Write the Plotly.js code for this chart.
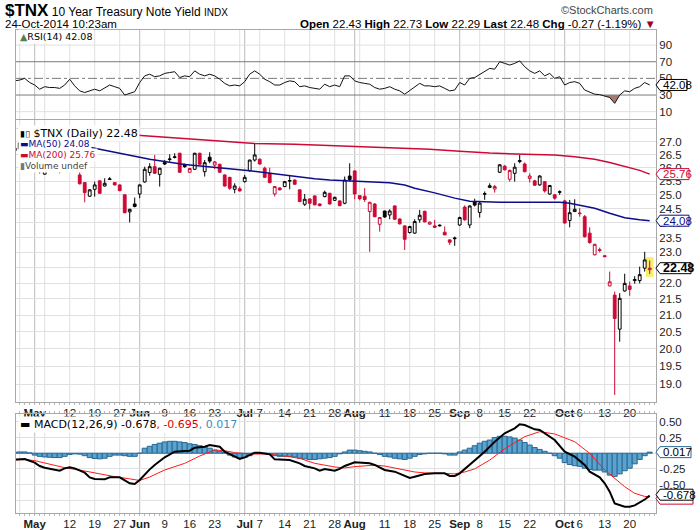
<!DOCTYPE html>
<html><head><meta charset="utf-8">
<script src="https://cdn.plot.ly/plotly-3.0.1.min.js"></script>
<style>html,body{margin:0;padding:0;background:#fff}#chart{width:700px;height:530px}</style>
</head><body><div id="chart"></div>
<script>
// ---------------- DATA ----------------
const dates = ("2014-04-25 2014-04-28 2014-04-29 2014-04-30 " +
"2014-05-01 2014-05-02 2014-05-05 2014-05-06 2014-05-07 2014-05-08 2014-05-09 2014-05-12 2014-05-13 2014-05-14 2014-05-15 2014-05-16 2014-05-19 2014-05-20 2014-05-21 2014-05-22 2014-05-23 2014-05-27 2014-05-28 2014-05-29 2014-05-30 " +
"2014-06-02 2014-06-03 2014-06-04 2014-06-05 2014-06-06 2014-06-09 2014-06-10 2014-06-11 2014-06-12 2014-06-13 2014-06-16 2014-06-17 2014-06-18 2014-06-19 2014-06-20 2014-06-23 2014-06-24 2014-06-25 2014-06-26 2014-06-27 2014-06-30 " +
"2014-07-01 2014-07-02 2014-07-03 2014-07-07 2014-07-08 2014-07-09 2014-07-10 2014-07-11 2014-07-14 2014-07-15 2014-07-16 2014-07-17 2014-07-18 2014-07-21 2014-07-22 2014-07-23 2014-07-24 2014-07-25 2014-07-28 2014-07-29 2014-07-30 2014-07-31 " +
"2014-08-01 2014-08-04 2014-08-05 2014-08-06 2014-08-07 2014-08-08 2014-08-11 2014-08-12 2014-08-13 2014-08-14 2014-08-15 2014-08-18 2014-08-19 2014-08-20 2014-08-21 2014-08-22 2014-08-25 2014-08-26 2014-08-27 2014-08-28 2014-08-29 " +
"2014-09-02 2014-09-03 2014-09-04 2014-09-05 2014-09-08 2014-09-09 2014-09-10 2014-09-11 2014-09-12 2014-09-15 2014-09-16 2014-09-17 2014-09-18 2014-09-19 2014-09-22 2014-09-23 2014-09-24 2014-09-25 2014-09-26 2014-09-29 2014-09-30 " +
"2014-10-01 2014-10-02 2014-10-03 2014-10-06 2014-10-07 2014-10-08 2014-10-09 2014-10-10 2014-10-13 2014-10-14 2014-10-15 2014-10-16 2014-10-17 2014-10-20 2014-10-21 2014-10-22 2014-10-23 2014-10-24").split(" ");

const openV = [26.75,26.7,26.95,26.98,
26.5,26.15,25.76,26.08,25.96,26.05,25.95,26.3,26.6,25.73,
25.445,24.95,25.20,25.51,25.32,25.56,25.445,25.36,25.0,24.39,
24.67,25.03,25.47,25.82,26.04,25.75,26.20,26.31,26.39,26.55,
26.13,25.83,25.94,26.55,25.85,26.40,26.10,26.13,25.73,25.64,
25.20,25.22,25.48,25.89,26.29,26.32,25.98,25.79,25.03,25.25,
25.30,25.50,25.54,25.18,24.66,24.85,24.96,24.67,24.935,25.055,
24.80,24.78,24.695,25.69,25.88,24.97,24.95,24.40,24.67,23.955,
24.42,24.28,24.60,24.14,23.90,23.67,23.65,24.11,24.41,23.96,
23.90,23.90,23.68,23.42,23.46,23.93,24.56,23.93,24.74,24.37,
25.02,25.27,25.21,25.83,26.06,25.57,25.79,26.23,26.14,25.60,
25.51,25.36,25.48,25.03,25.00,25.09,24.78,24.09,24.40,24.35,
24.22,23.65,22.92,23.09,22.89,21.91,21.62,20.58,21.75,21.91,
22.08,22.08,22.48,22.43];
const highV = [26.85,27.05,27.05,27.0,
26.6,26.45,26.1,26.2,26.12,26.2,26.3,26.7,26.62,25.89,
25.46,25.2,25.48,25.53,25.605,25.65,25.47,25.38,25.02,24.5,
24.90,25.38,26.04,26.17,26.485,26.0,26.29,26.51,26.55,26.57,
26.15,25.99,26.57,26.57,26.29,26.59,26.25,26.15,25.75,25.66,
25.42,25.30,25.73,26.30,26.91,26.35,26.04,26.0,25.31,25.27,
25.5,25.69,25.56,25.2,25.03,24.87,24.98,24.69,25.15,25.07,
24.93,24.8,25.67,26.17,25.9,24.99,25.24,24.75,24.7,24.2,
24.43,24.48,24.62,24.16,23.92,23.9,24.13,24.46,24.43,24.05,
24.11,23.95,23.88,23.44,23.53,24.22,24.62,24.62,24.86,24.755,
25.12,25.42,25.36,26.14,26.10,25.93,26.17,26.485,26.2,25.79,
25.55,25.72,25.5,25.36,25.02,25.16,24.82,24.815,24.84,24.52,
24.28,23.85,23.29,23.16,22.90,22.37,21.73,21.68,22.30,22.05,
22.22,22.53,23.02,22.73];
const lowV = [26.55,26.6,26.8,26.45,
26.0,25.78,25.74,25.86,25.92,25.79,25.93,26.25,26.05,25.38,
24.73,24.93,24.935,25.03,25.30,25.54,25.34,25.13,24.34,24.02,
24.55,24.875,25.445,25.70,25.78,25.30,26.10,26.23,26.35,25.81,
26.0,25.81,25.91,26.11,25.67,26.17,25.95,25.81,25.30,25.18,
25.055,25.12,25.45,25.85,26.23,26.12,25.62,25.42,24.94,25.16,
25.28,25.20,25.37,24.74,24.60,24.48,24.62,24.59,24.91,24.65,
24.78,24.59,24.66,25.48,24.84,24.80,24.74,23.02,24.2,23.70,
24.18,24.13,24.11,23.95,23.08,23.64,23.63,24.01,24.02,23.94,
23.84,23.88,23.58,23.25,23.22,23.90,24.08,23.82,24.58,24.19,
24.82,25.24,25.08,25.80,25.90,25.48,25.48,26.17,25.83,25.45,
25.33,25.33,25.08,25.0,24.82,25.0,23.98,23.85,24.40,24.22,
23.50,23.29,22.90,23.0,22.84,21.90,18.71,20.21,21.73,21.60,
21.98,21.99,22.37,22.29];
const closeV = [26.65,26.95,26.98,26.5,
26.1,25.88,26.02,25.96,26.05,25.95,26.25,26.62,26.12,25.40,
25.08,25.18,25.36,25.055,25.42,25.58,25.36,25.15,24.36,24.48,
24.58,25.36,25.94,26.04,25.79,25.98,26.14,26.33,26.41,25.83,
26.04,25.97,26.55,26.13,26.19,26.25,26.22,25.83,25.32,25.24,
25.32,25.14,25.64,26.29,26.485,26.14,25.64,25.445,25.30,25.18,
25.48,25.52,25.385,24.755,24.84,24.695,24.64,24.61,25.09,24.67,
24.91,24.61,25.54,25.56,25.03,24.86,24.83,24.73,24.22,24.19,
24.21,24.42,24.13,23.97,23.44,23.876,24.05,24.27,24.04,24.03,
23.85,23.92,23.59,23.34,23.48,24.19,24.11,24.60,24.63,24.70,
25.04,25.33,25.30,26.11,25.92,25.90,26.02,26.27,25.85,25.69,
25.35,25.69,25.14,25.34,24.88,25.11,24.00,24.36,24.48,24.33,
23.53,23.33,23.27,23.07,22.86,22.04,20.90,21.52,21.99,21.80,
22.11,22.27,22.75,22.48];

const rsi14 = [47,48,50,45,
42,37,40,39,39,38,42,49,41,35,
33,35,37,35,38,42,40,38,30,32,
34,45,53,55,52,53,56,57,58,51,
53,52,59,55,53,55,53,49,44,41,
42,41,46,55,59,55,49,46,42,42,
45,47,46,40,41,39,38,37,43,40,
42,40,53,53,47,45,44,43,39,37,
38,40,37,35,31,35,39,44,41,41,
40,41,38,35,36,45,42,50,51,55,
58,62,61,70,68,66,68,71,64,59,
56,59,53,56,50,52,42,45,46,44,
36,33,31,30.5,29,27,20,30,35,34,
38,40,45,42.08];

const ma50Dates = ["2014-05-15","2014-05-16","2014-05-23","2014-06-04","2014-06-13","2014-06-23","2014-06-26","2014-06-30","2014-07-02","2014-07-09","2014-07-15","2014-07-22","2014-07-25","2014-08-01","2014-08-12","2014-08-15","2014-08-19","2014-08-25","2014-08-29","2014-09-04","2014-09-08","2014-09-12","2014-09-19","2014-09-30","2014-10-02","2014-10-07","2014-10-09","2014-10-14","2014-10-17","2014-10-22","2014-10-24"];
const ma50 = [26.80,26.78,26.59,26.32,26.12,26.00,25.96,25.92,25.89,25.80,25.69,25.59,25.54,25.49,25.44,25.36,25.24,25.07,24.88,24.77,24.75,24.73,24.73,24.73,24.70,24.60,24.52,24.34,24.18,24.11,24.08];

const ma200Dates = ["2014-05-27","2014-05-30","2014-06-06","2014-06-13","2014-06-20","2014-06-26","2014-07-03","2014-07-16","2014-07-25","2014-08-01","2014-08-13","2014-08-22","2014-09-02","2014-09-10","2014-09-19","2014-09-29","2014-10-03","2014-10-09","2014-10-14","2014-10-17","2014-10-22","2014-10-24"];
const ma200 = [27.30,27.26,27.18,27.12,27.06,27.02,26.93,26.90,26.85,26.81,26.77,26.70,26.63,26.56,26.51,26.48,26.42,26.32,26.20,26.05,25.90,25.76];

const macdDates = ["2014-04-25","2014-04-29","2014-05-01","2014-05-02","2014-05-05","2014-05-07","2014-05-08","2014-05-09","2014-05-12","2014-05-13","2014-05-15","2014-05-16","2014-05-19","2014-05-21","2014-05-22","2014-05-27","2014-05-28","2014-05-29","2014-05-30","2014-06-02","2014-06-04","2014-06-05","2014-06-09","2014-06-11","2014-06-13","2014-06-16","2014-06-17","2014-06-19","2014-06-20","2014-06-24","2014-06-25","2014-06-27","2014-06-30","2014-07-01","2014-07-03","2014-07-07","2014-07-09","2014-07-10","2014-07-14","2014-07-15","2014-07-17","2014-07-18","2014-07-22","2014-07-23","2014-07-24","2014-07-25","2014-07-28","2014-07-29","2014-07-30","2014-08-01","2014-08-04","2014-08-06","2014-08-07","2014-08-11","2014-08-13","2014-08-15","2014-08-18","2014-08-19","2014-08-21","2014-08-25","2014-08-27","2014-08-28","2014-08-29","2014-09-02","2014-09-04","2014-09-05","2014-09-09","2014-09-11","2014-09-15","2014-09-17","2014-09-18","2014-09-19","2014-09-23","2014-09-24","2014-09-25","2014-09-29","2014-10-01","2014-10-03","2014-10-07","2014-10-08","2014-10-10","2014-10-13","2014-10-14","2014-10-15","2014-10-17","2014-10-20","2014-10-21","2014-10-23","2014-10-24"];
const macdLine = [-0.10,-0.093,-0.151,-0.204,-0.231,-0.258,-0.279,-0.242,-0.226,-0.242,-0.311,-0.386,-0.412,-0.417,-0.386,-0.386,-0.428,-0.481,-0.492,-0.428,-0.258,-0.188,-0.066,0.024,0.035,0.040,0.088,0.104,0.131,0.104,0.024,-0.055,-0.093,-0.066,0.009,0.009,-0.018,-0.098,-0.109,-0.109,-0.162,-0.204,-0.242,-0.279,-0.252,-0.268,-0.279,-0.25,-0.204,-0.146,-0.151,-0.162,-0.188,-0.268,-0.295,-0.364,-0.396,-0.375,-0.332,-0.322,-0.322,-0.364,-0.364,-0.322,-0.188,-0.109,0.024,0.184,0.317,0.397,0.461,0.450,0.381,0.371,0.317,0.211,0.024,-0.055,-0.188,-0.295,-0.386,-0.481,-0.614,-0.801,-0.854,-0.854,-0.833,-0.74,-0.678];

const signalDates = ["2014-04-25","2014-04-29","2014-05-01","2014-05-06","2014-05-09","2014-05-15","2014-05-20","2014-05-23","2014-05-29","2014-06-02","2014-06-04","2014-06-09","2014-06-13","2014-06-18","2014-06-23","2014-06-25","2014-06-27","2014-07-02","2014-07-08","2014-07-14","2014-07-17","2014-07-22","2014-07-28","2014-07-30","2014-08-01","2014-08-05","2014-08-07","2014-08-11","2014-08-13","2014-08-15","2014-08-19","2014-08-21","2014-08-26","2014-08-29","2014-09-03","2014-09-05","2014-09-10","2014-09-15","2014-09-19","2014-09-24","2014-09-29","2014-10-03","2014-10-08","2014-10-13","2014-10-17","2014-10-21","2014-10-23","2014-10-24"];
const signalLine = [-0.11,-0.10,-0.119,-0.178,-0.231,-0.284,-0.332,-0.375,-0.41,-0.435,-0.38,-0.268,-0.162,-0.045,0.051,0.04,0.009,-0.013,-0.013,-0.045,-0.082,-0.162,-0.22,-0.235,-0.215,-0.2,-0.19,-0.205,-0.235,-0.27,-0.30,-0.315,-0.32,-0.33,-0.30,-0.25,-0.11,0.07,0.264,0.344,0.307,0.184,-0.002,-0.268,-0.535,-0.641,-0.69,-0.695];

const macdHist = [0.015,0.02,0.02,0.005,
-0.03,-0.05,-0.06,-0.065,-0.07,-0.07,-0.05,-0.02,-0.01,-0.015,
-0.04,-0.07,-0.085,-0.09,-0.08,-0.05,-0.03,-0.03,-0.04,-0.05,
-0.05,0.0,0.08,0.11,0.14,0.16,0.18,0.19,0.19,0.18,
0.17,0.15,0.14,0.12,0.1,0.08,0.05,0.03,0.01,-0.03,
-0.06,-0.08,-0.07,-0.04,0.0,0.01,0.0,-0.02,-0.04,-0.05,
-0.05,-0.05,-0.06,-0.08,-0.09,-0.1,-0.1,-0.09,-0.08,-0.07,
-0.05,-0.01,0.02,0.05,0.05,0.04,0.03,0.02,0.0,-0.02,
-0.05,-0.06,-0.08,-0.09,-0.1,-0.08,-0.05,-0.02,-0.01,0.0,
0.0,0.0,-0.01,-0.03,-0.03,0.02,0.05,0.08,0.12,0.16,
0.19,0.21,0.25,0.27,0.27,0.26,0.24,0.21,0.17,0.13,
0.09,0.06,0.03,0.0,-0.04,-0.08,-0.15,-0.18,-0.2,-0.21,
-0.24,-0.26,-0.27,-0.27,-0.3,-0.35,-0.37,-0.33,-0.28,-0.24,
-0.17,-0.1,-0.04,0.017];

const monthNames = ["Jan","Feb","Mar","Apr","May","Jun","Jul","Aug","Sep","Oct","Nov","Dec"];

// ---------------- GEOMETRY / STYLE ----------------
const PL = 16, PR = 656, PT = 30, PB = 513;
const pyP = p => (PB - p) / (PB - PT);
const pxP = p => (p - PL) / (PR - PL);
const rsiDom = [pyP(119), 1], mainDom = [pyP(402), pyP(120)], macdDom = [0, pyP(414)];
const n = dates.length;
const X = dates.map((d, i) => i);
const xi = d => dates.indexOf(d);
const xRange = [0.26, n + 0.26];
const rsiRange = [1.2, 108.1];
const mainRange = [Math.log10(18.52), Math.log10(27.86)];
const macdRange = [-0.955, 0.626];
const GRID = '#e0e0e0', MONTHGRID = '#bcbcbc', BORDER = '#a8a8a8';
const RED = '#cc0a35', NAVY = '#0d0d8a';
const LEG_FONT = 'DejaVu Sans, Verdana, sans-serif';
const AX_FONT = 'Liberation Sans, Arial, sans-serif';

// ---- x ticks (week starts / month starts) ----
const tickvals = [], ticktext = [], monthIdx = [];
for (let k = 1; k < n; k++) {
  const d = new Date(dates[k] + 'T00:00:00Z'), p = new Date(dates[k - 1] + 'T00:00:00Z');
  if (d.getUTCMonth() !== p.getUTCMonth()) monthIdx.push(k);
}
for (let k = 1; k < n; k++) {
  const d = new Date(dates[k] + 'T00:00:00Z'), p = new Date(dates[k - 1] + 'T00:00:00Z');
  const isMonth = monthIdx.includes(k);
  const isWeek = d.getUTCDay() < p.getUTCDay() || (d - p) > 3 * 864e5;
  if (!isMonth && !isWeek) continue;
  tickvals.push(k);
  if (isMonth) { ticktext.push('<b>' + monthNames[d.getUTCMonth()] + '</b>'); continue; }
  const near = monthIdx.some(m => Math.abs(m - k) <= 2) || k < monthIdx[0];
  ticktext.push(near ? '' : String(d.getUTCDate()));
}

// ---- candles: black when close >= previous close, red otherwise ----
const upIdx = [], dnIdx = [];
for (let k = 0; k < n; k++) ((k === 0 || closeV[k] >= closeV[k - 1]) ? upIdx : dnIdx).push(k);
function candles(idx, col) {
  return {
    type: 'candlestick', xaxis: 'x2', yaxis: 'y2',
    x: idx.map(k => X[k]), open: idx.map(k => openV[k]), high: idx.map(k => highV[k]),
    low: idx.map(k => lowV[k]), close: idx.map(k => closeV[k]),
    increasing: { line: { color: col, width: 1 }, fillcolor: '#ffffff' },
    decreasing: { line: { color: col, width: 1 }, fillcolor: col },
    whiskerwidth: 0, hoverinfo: 'skip', showlegend: false
  };
}

// ---- RSI below-30 fill ----
const fx = [], fy = [];
for (let k = 0; k < n; k++) {
  if (k > 0 && (rsi14[k - 1] - 30) * (rsi14[k] - 30) < 0) {
    const t = (30 - rsi14[k - 1]) / (rsi14[k] - rsi14[k - 1]);
    fx.push(k - 1 + t); fy.push(30);
  }
  fx.push(k); fy.push(Math.min(rsi14[k], 30));
}
const last = n - 1;

const data = [
  { type: 'scatter', mode: 'lines', xaxis: 'x', yaxis: 'y', x: fx, y: fx.map(() => 30), line: { width: 0 }, hoverinfo: 'skip' },
  { type: 'scatter', mode: 'lines', xaxis: 'x', yaxis: 'y', x: fx, y: fy, fill: 'tonexty', fillcolor: '#a57b70', line: { width: 0 }, hoverinfo: 'skip' },
  { type: 'scatter', mode: 'lines', xaxis: 'x', yaxis: 'y', x: X, y: rsi14, line: { color: '#111', width: 1 }, hoverinfo: 'skip' },
  candles(upIdx, '#000000'),
  candles(dnIdx, RED),
  { type: 'scatter', mode: 'lines', xaxis: 'x2', yaxis: 'y2', x: ma200Dates.map(xi), y: ma200, line: { color: RED, width: 1.5 }, hoverinfo: 'skip' },
  { type: 'scatter', mode: 'lines', xaxis: 'x2', yaxis: 'y2', x: ma50Dates.map(xi), y: ma50, line: { color: NAVY, width: 1.5 }, hoverinfo: 'skip' },
  { type: 'bar', xaxis: 'x3', yaxis: 'y3', x: X, y: macdHist, width: 1, marker: { color: '#58a3d0', line: { color: '#2a6790', width: 1 } }, hoverinfo: 'skip' },
  { type: 'scatter', mode: 'lines', xaxis: 'x3', yaxis: 'y3', x: signalDates.map(xi), y: signalLine, line: { color: '#ff1a1a', width: 1 }, hoverinfo: 'skip' },
  { type: 'scatter', mode: 'lines', xaxis: 'x3', yaxis: 'y3', x: macdDates.map(xi), y: macdLine, line: { color: '#000', width: 2 }, hoverinfo: 'skip' }
];

// ---------------- SHAPES (behind the data) ----------------
const shapes = [];
function frac(range, v, log) { return ((log ? Math.log10(v) : v) - range[0]) / (range[1] - range[0]); }
function yPaper(dom, range, v, log) { return dom[0] + frac(range, v, log) * (dom[1] - dom[0]); }

// vertical grid: weekly light, month starts darker
['y', 'y2', 'y3'].forEach((ya, j) => tickvals.forEach(k =>
  shapes.push({ type: 'line', xref: ['x', 'x2', 'x3'][j], yref: ya + ' domain', x0: k, x1: k, y0: 0, y1: 1,
    line: { color: monthIdx.includes(k) ? MONTHGRID : GRID, width: 1 }, layer: 'below' })));
// RSI reference lines
[[10, GRID, 'solid'], [90, GRID, 'solid'], [70, '#7a7a7a', 'solid'], [30, '#7a7a7a', 'solid'], [50, '#7a7a7a', 'dashdot']].forEach(([v, c, dash]) =>
  shapes.push({ type: 'line', xref: 'x domain', yref: 'y domain', x0: 0, x1: 1, y0: frac(rsiRange, v), y1: frac(rsiRange, v),
    line: { color: c, width: 1, dash: dash }, layer: 'below' }));
// last-bar highlight
shapes.push({ type: 'rect', xref: 'x2', yref: 'y2 domain', x0: last - 0.75, x1: last + 0.75,
  y0: frac(mainRange, lowV[last], true) - 0.01, y1: frac(mainRange, highV[last], true) + 0.012,
  fillcolor: '#f6ef6a', line: { width: 0 }, layer: 'below' });

// ---------------- TAGS / ANNOTATIONS ----------------
const ann = [];
function tag(yp, txt, border, color, w, bold) {
  shapes.push({ type: 'path', xref: 'paper', yref: 'paper', xsizemode: 'pixel', ysizemode: 'pixel', xanchor: 1, yanchor: yp,
    path: `M0,0 L4,5.5 L${w},5.5 L${w},-5.5 L4,-5.5 Z`, fillcolor: '#fff', line: { color: border, width: 1 }, layer: 'above' });
  if (txt) ann.push({ xref: 'paper', yref: 'paper', x: 1, y: yp, xanchor: 'left', yanchor: 'middle', xshift: 4.5, showarrow: false,
    text: bold ? '<b>' + txt + '</b>' : txt, font: { family: AX_FONT, size: bold ? 12.5 : 11.5, color: color } });
}
const lastMA50 = ma50[ma50.length - 1], lastMA200 = ma200[ma200.length - 1];
const lastRSI = rsi14[last], lastHist = macdHist[last], lastMacd = macdLine[macdLine.length - 1], lastSig = signalLine[signalLine.length - 1];

tag(yPaper(rsiDom, rsiRange, lastRSI, false), lastRSI.toFixed(2), '#000', '#000', 31);
tag(yPaper(mainDom, mainRange, lastMA200, true), lastMA200.toFixed(2), RED, RED, 33);
tag(yPaper(mainDom, mainRange, lastMA50, true), lastMA50.toFixed(2), NAVY, NAVY, 33);
tag(yPaper(mainDom, mainRange, closeV[last], true), closeV[last].toFixed(2), '#000', '#000', 35, true);
tag(yPaper(macdDom, macdRange, lastHist, false), lastHist.toFixed(3), '#2a6790', '#000', 35);
tag(yPaper(macdDom, macdRange, lastSig, false) - 0.004, '', RED, '#000', 37);           // signal tag, mostly hidden
tag(yPaper(macdDom, macdRange, lastMacd, false) + 0.002, lastMacd.toFixed(3), '#000', '#000', 37);

function note(px, py, txt, opts) {
  ann.push(Object.assign({ xref: 'paper', yref: 'paper', x: pxP(px), y: pyP(py), xanchor: 'left', yanchor: 'middle', showarrow: false, text: txt,
    font: { family: AX_FONT, size: 11, color: '#000' } }, opts || {}));
}
// header
note(3, 10, '<b>$TNX</b><span style="font-size:12px"> 10 Year Treasury Note Yield </span><span style="font-size:10px">INDX</span>', { font: { family: AX_FONT, size: 17, color: '#000' } });
note(3, 24, '24-Oct-2014 10:23am', { font: { family: AX_FONT, size: 11.5, color: '#000' } });
note(655, 10, '©StockCharts.com', { xanchor: 'right', font: { family: AX_FONT, size: 11, color: '#444' } });
const chg = closeV[last] - closeV[last - 1];
note(658, 24, '<b>Open</b> ' + openV[last].toFixed(2) + ' <b>High</b> ' + highV[last].toFixed(2) + ' <b>Low</b> ' + lowV[last].toFixed(2) +
  ' <b>Last</b> ' + closeV[last].toFixed(2) + ' <b>Chg</b> ' + chg.toFixed(2) + ' (' + (100 * chg / closeV[last - 1]).toFixed(2) + '%) <span style="color:#9c0030">▼</span>',
  { xanchor: 'right', font: { family: AX_FONT, size: 11.5, color: '#000' } });

// panel legends (white boxes)
const leg = size => ({ bgcolor: '#ffffff', borderpad: 1, font: { family: LEG_FONT, size: size, color: '#000' } });
note(18, 36, '<span style="color:#4f7f4f">▲</span>RSI(14) ' + lastRSI.toFixed(2), leg(9.5));
note(18, 133, '<span style="font-size:9px">▮▯</span> $TNX (Daily) ' + closeV[last].toFixed(2), leg(11));
note(18, 144, '<span style="color:' + NAVY + '">▬</span><span style="color:' + NAVY + '">MA(50) ' + lastMA50.toFixed(2) + '</span>', leg(9));
note(18, 155, '<span style="color:' + RED + '">▬</span><span style="color:' + RED + '">MA(200) ' + lastMA200.toFixed(2) + '</span>', leg(9));
note(18, 165.5, '<span style="color:#777">▮</span><span style="color:#444">Volume undef</span>', leg(9));
note(18, 424, '▬ MACD(12,26,9) ' + lastMacd.toFixed(3) + '<span style="color:#e00000">, ' + lastSig.toFixed(3) + '</span><span style="color:#3a8cc0">, ' + lastHist.toFixed(3) + '</span>', leg(11));

// ---------------- LAYOUT ----------------
const xBase = () => ({ range: xRange.slice(), tickmode: 'array', tickvals: tickvals.slice(), ticktext: ticktext.slice(), showgrid: false,
  zeroline: false, showline: true, mirror: true, linecolor: BORDER, linewidth: 1, ticks: '',
  tickfont: { family: AX_FONT, size: 11.5, color: '#222' }, fixedrange: true, rangeslider: { visible: false } });
const yBase = () => ({ side: 'right', showgrid: true, gridcolor: GRID, zeroline: false, showline: true, mirror: true, linecolor: BORDER, ticks: '',
  tickfont: { family: AX_FONT, size: 11.5, color: '#222' }, tickmode: 'array', fixedrange: true });
const dayTicks = { tickmode: 'linear', tick0: 0, dtick: 1, ticks: 'outside', ticklen: 2, tickcolor: '#b8b8b8', showgrid: false };

const mainTicks = [], mainText = [];
for (let v = 19; v <= 27.5001; v += 0.5) { mainTicks.push(v); mainText.push(v > 27.2 ? '' : v.toFixed(1)); }

const layout = {
  width: 700, height: 530, margin: { l: PL, r: 700 - PR, t: PT, b: 530 - PB },
  paper_bgcolor: '#fff', plot_bgcolor: '#fff', showlegend: false, boxgap: 0.2, bargap: 0,
  font: { family: AX_FONT, size: 11, color: '#222' },
  xaxis: Object.assign(xBase(), { anchor: 'y', showticklabels: false }),
  xaxis2: Object.assign(xBase(), { anchor: 'y2', showticklabels: true, minor: Object.assign({}, dayTicks) }),
  xaxis3: Object.assign(xBase(), { anchor: 'y3', showticklabels: true, mirror: 'allticks', minor: Object.assign({}, dayTicks) }),
  yaxis: Object.assign(yBase(), { domain: rsiDom, anchor: 'x', range: rsiRange.slice(), tickvals: [10, 30, 50, 70, 90], showgrid: false }),
  yaxis2: Object.assign(yBase(), { domain: mainDom, anchor: 'x2', type: 'log', range: mainRange.slice(), tickvals: mainTicks, ticktext: mainText }),
  yaxis3: Object.assign(yBase(), { domain: macdDom, anchor: 'x3', range: macdRange.slice(),
    tickvals: [-0.75, -0.5, -0.25, 0, 0.25, 0.5], ticktext: ['-0.75', '-0.50', '-0.25', '0.00', '0.25', '0.50'] }),
  shapes: shapes, annotations: ann
};

Plotly.newPlot('chart', data, layout, { staticPlot: true, displayModeBar: false });
</script>
</body></html>
